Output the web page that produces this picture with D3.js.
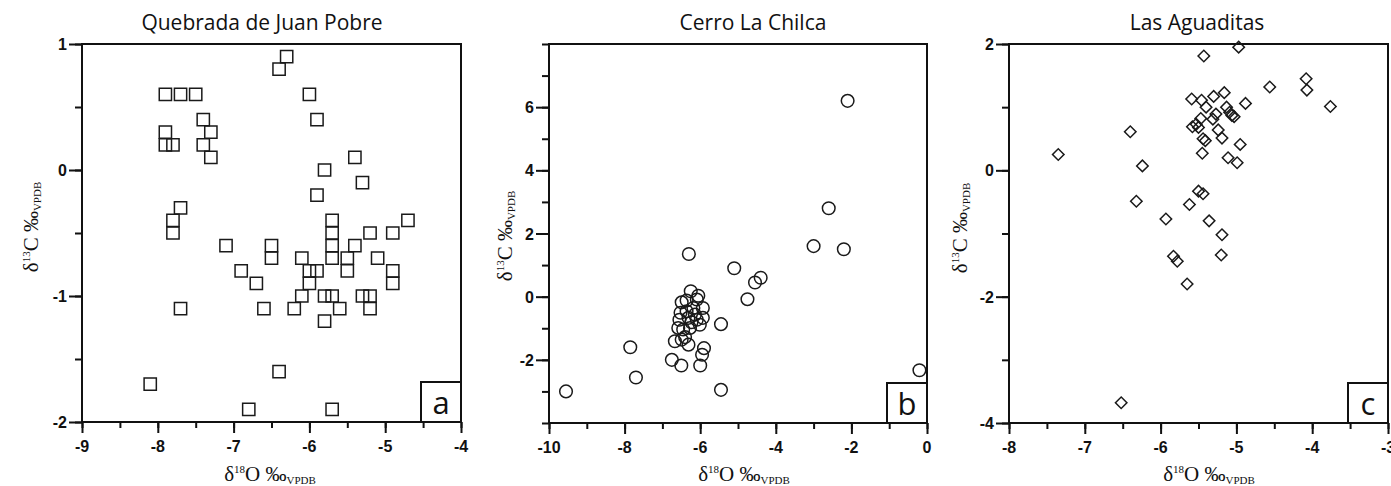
<!DOCTYPE html>
<html>
<head>
<meta charset="utf-8">
<script src="https://cdn.jsdelivr.net/npm/d3@7/dist/d3.min.js"></script>
<style>
  body { margin: 0; background: #fff; }
  .frame { fill: none; stroke: #111; stroke-width: 2; }
  .tick line { stroke: #111; stroke-width: 2; }
  .ticklabel { font-family: "Liberation Sans", Arial, sans-serif; font-weight: bold; font-size: 16px; fill: #111; }
  .title { font-family: "Open Sans", "Noto Sans", sans-serif; font-size: 21px; fill: #111; }
  .axtitle { font-family: "Liberation Serif", "Times New Roman", serif; font-size: 21px; fill: #111; }
  .mark { fill: none; stroke: #1a1a1a; stroke-width: 1.5; }
  .letter { font-family: "Open Sans", "Noto Sans", sans-serif; font-size: 31px; fill: #111; }
</style>
</head>
<body>
<div class="chart"></div>
<script>
// Quebrada de Juan Pobre (squares)
var quebradaO = [-7.9, -7.7, -7.5, -6.4, -6.3, -6.0, -5.9, -7.4, -7.3, -7.9, -7.9, -7.8, -7.4, -7.3,
  -7.7, -7.8, -7.8, -7.7, -8.1, -6.8, -6.4, -5.7, -5.8, -5.9, -5.4, -5.3, -4.7,
  -7.1, -6.5, -6.5, -6.9, -6.7, -6.6, -5.7, -5.7, -5.7, -5.7,
  -5.2, -4.9, -5.4, -5.5, -5.5, -5.1, -4.9, -4.9,
  -6.1, -6.0, -5.9, -6.0, -6.1, -6.2, -5.8, -5.7, -5.6, -5.8, -5.3, -5.2, -5.2];
var quebradaC = [0.6, 0.6, 0.6, 0.8, 0.9, 0.6, 0.4, 0.4, 0.3, 0.3, 0.2, 0.2, 0.2, 0.1,
  -0.3, -0.4, -0.5, -1.1, -1.7, -1.9, -1.6, -1.9, 0.0, -0.2, 0.1, -0.1, -0.4,
  -0.6, -0.6, -0.7, -0.8, -0.9, -1.1, -0.4, -0.5, -0.6, -0.7,
  -0.5, -0.5, -0.6, -0.7, -0.8, -0.7, -0.8, -0.9,
  -0.7, -0.8, -0.8, -0.9, -1.0, -1.1, -1.0, -1.0, -1.1, -1.2, -1.0, -1.0, -1.1];

// Cerro La Chilca (circles)
var chilcaO = [-2.1, -2.6, -3.0, -2.2, -6.3, -5.1, -4.55, -4.4, -4.75, -5.45, -7.85, -7.7, -9.55,
  -5.45, -0.2, -6.75, -6.5, -6.0, -5.95, -5.9,
  -6.25, -6.05, -6.49, -6.36, -6.09, -5.93, -6.55, -6.31, -6.14, -6.01, -6.45, -6.27,
  -6.09, -6.67, -6.49, -6.31, -6.4, -6.58, -6.23, -6.36, -6.18, -5.93, -6.52];
var chilcaC = [6.2, 2.8, 1.6, 1.5, 1.35, 0.9, 0.45, 0.6, -0.08, -0.87, -1.6, -2.56, -3.0,
  -2.95, -2.33, -2.0, -2.18, -2.18, -1.84, -1.63,
  0.17, 0.03, -0.18, -0.12, -0.09, -0.36, -0.73, -0.67, -0.57, -0.89, -1.04, -0.99,
  -0.73, -1.41, -1.36, -1.52, -1.28, -0.99, -0.81, -0.46, -0.36, -0.67, -0.51];

// Las Aguaditas (diamonds)
var aguaditasO = [-4.97, -5.43, -4.56, -5.59, -5.46, -5.30, -5.16, -5.40, -5.13, -4.88, -5.06, -5.03,
  -5.09, -5.27, -5.31, -5.47, -5.53, -5.58, -5.50, -5.24, -5.19, -5.44, -5.41, -5.45,
  -4.95, -5.11, -4.99, -6.40, -6.24, -6.32, -5.93, -5.62, -5.50, -5.44, -5.36, -5.19,
  -4.08, -4.07, -3.76, -7.35, -5.83, -5.78, -5.65, -5.20, -6.52];
var aguaditasC = [1.95, 1.81, 1.32, 1.13, 1.11, 1.17, 1.23, 1.0, 1.0, 1.06, 0.87, 0.85,
  0.92, 0.89, 0.81, 0.82, 0.73, 0.69, 0.68, 0.64, 0.51, 0.50, 0.47, 0.27,
  0.41, 0.20, 0.12, 0.61, 0.07, -0.49, -0.77, -0.54, -0.33, -0.37, -0.80, -1.02,
  1.45, 1.27, 1.01, 0.25, -1.36, -1.44, -1.80, -1.34, -3.68];

// ticks
var quebradaXTicks = [-9, -8, -7, -6, -5, -4];
var quebradaYTicks = [-2, -1, 0, 1];
var chilcaXTicks = [-10, -8, -6, -4, -2, 0];
var chilcaYTicks = [-2, 0, 2, 4, 6];
var aguaditasXTicks = [-8, -7, -6, -5, -4, -3];
var aguaditasYTicks = [-4, -2, 0, 2];

var titles = ["Quebrada de Juan Pobre", "Cerro La Chilca", "Las Aguaditas"];
var letters = ["a", "b", "c"];

var panels = [
  { title: titles[0], letter: letters[0], xs: quebradaO, ys: quebradaC, symbol: "square",
    xDomain: [-9, -4], yDomain: [-2, 1], xTicks: quebradaXTicks, yTicks: quebradaYTicks, xMinor: 0.5, yMinor: 0.5,
    left: 82, right: 461, top: 44, bottom: 422, titleX: 262, xTitleX: 270, yTitleX: 38, yTitleY: 227 },
  { title: titles[1], letter: letters[1], xs: chilcaO, ys: chilcaC, symbol: "circle",
    xDomain: [-10, 0], yDomain: [-4, 8], xTicks: chilcaXTicks, yTicks: chilcaYTicks, xMinor: 1, yMinor: 1,
    left: 549, right: 927, top: 44, bottom: 423, titleX: 753, xTitleX: 744, yTitleX: 512, yTitleY: 236 },
  { title: titles[2], letter: letters[2], xs: aguaditasO, ys: aguaditasC, symbol: "diamond",
    xDomain: [-8, -3], yDomain: [-4, 2], xTicks: aguaditasXTicks, yTicks: aguaditasYTicks, xMinor: 0.5, yMinor: 1,
    left: 1009, right: 1388, top: 44, bottom: 423, titleX: 1197, xTitleX: 1209, yTitleX: 967, yTitleY: 228 }
];

var svg = d3.select(".chart").append("svg")
  .attr("width", 1391)
  .attr("height", 486);

function range(a, b, step) {
  var out = [];
  var n = Math.round((b - a) / step);
  for (var i = 0; i <= n; i++) out.push(+(a + i * step).toFixed(4));
  return out;
}

function drawPanel(p) {
  var x = d3.scaleLinear().domain(p.xDomain).range([p.left, p.right]);
  var y = d3.scaleLinear().domain(p.yDomain).range([p.bottom, p.top]);
  var g = svg.append("g");

  // minor ticks
  var xMinorAxis = d3.axisBottom(x).tickValues(range(p.xDomain[0], p.xDomain[1], p.xMinor)).tickSize(6).tickFormat("");
  var yMinorAxis = d3.axisLeft(y).tickValues(range(p.yDomain[0], p.yDomain[1], p.yMinor)).tickSize(7).tickFormat("");
  g.append("g").attr("transform", `translate(0, ${p.bottom})`).call(xMinorAxis)
    .call(s => s.select(".domain").remove());
  g.append("g").attr("transform", `translate(${p.left}, 0)`).call(yMinorAxis)
    .call(s => s.select(".domain").remove());

  // major ticks
  var xAxis = d3.axisBottom(x).tickValues(p.xTicks).tickSize(11).tickFormat("");
  var yAxis = d3.axisLeft(y).tickValues(p.yTicks).tickSize(13).tickFormat("");
  g.append("g").attr("transform", `translate(0, ${p.bottom})`).call(xAxis)
    .call(s => s.select(".domain").remove());
  g.append("g").attr("transform", `translate(${p.left}, 0)`).call(yAxis)
    .call(s => s.select(".domain").remove());

  // tick labels
  g.selectAll(".xl").data(p.xTicks).enter().append("text")
    .attr("class", "ticklabel")
    .attr("x", d => x(d))
    .attr("y", p.bottom + 30)
    .attr("text-anchor", "middle")
    .text(d => String(d));
  g.selectAll(".yl").data(p.yTicks).enter().append("text")
    .attr("class", "ticklabel")
    .attr("x", p.left - 15)
    .attr("y", d => y(d) + 6)
    .attr("text-anchor", "end")
    .text(d => String(d));

  // frame
  g.append("rect").attr("class", "frame")
    .attr("x", p.left).attr("y", p.top)
    .attr("width", p.right - p.left).attr("height", p.bottom - p.top);

  // letter box
  g.append("rect").attr("class", "frame")
    .attr("x", p.right - 40).attr("y", p.bottom - 40)
    .attr("width", 40).attr("height", 40);
  g.append("text").attr("class", "letter")
    .attr("x", p.right - 20).attr("y", p.bottom - 8)
    .attr("text-anchor", "middle")
    .text(p.letter);

  // title
  g.append("text").attr("class", "title")
    .attr("x", p.titleX).attr("y", 30)
    .attr("text-anchor", "middle")
    .text(p.title);

  // x axis title
  var xt = g.append("text").attr("class", "axtitle")
    .attr("x", p.xTitleX).attr("y", 481)
    .attr("text-anchor", "middle");
  xt.append("tspan").text("δ");
  xt.append("tspan").attr("font-size", 11).attr("dy", -8).text("18");
  xt.append("tspan").attr("dy", 8).text("O ‰");
  xt.append("tspan").attr("font-size", 11).attr("dy", 3).text("VPDB");

  // y axis title
  var yt = g.append("text").attr("class", "axtitle")
    .attr("transform", `translate(${p.yTitleX}, ${p.yTitleY}) rotate(-90)`)
    .attr("text-anchor", "middle");
  yt.append("tspan").text("δ");
  yt.append("tspan").attr("font-size", 11).attr("dy", -8).text("13");
  yt.append("tspan").attr("dy", 8).text("C ‰");
  yt.append("tspan").attr("font-size", 11).attr("dy", 3).text("VPDB");

  // points
  var pts = p.xs.map((v, i) => ({ x: v, y: p.ys[i] }));
  var sym;
  if (p.symbol === "square") sym = d3.symbol().type(d3.symbolSquare).size(150);
  else if (p.symbol === "circle") sym = d3.symbol().type(d3.symbolCircle).size(125);
  else sym = d3.symbol().type(d3.symbolSquare).size(66);
  g.selectAll(".mark").data(pts).enter().append("path")
    .attr("class", "mark")
    .attr("d", sym)
    .attr("transform", d => `translate(${x(d.x)}, ${y(d.y)})` + (p.symbol === "diamond" ? " rotate(45)" : ""));
}

panels.forEach(drawPanel);
</script>
</body>
</html>
